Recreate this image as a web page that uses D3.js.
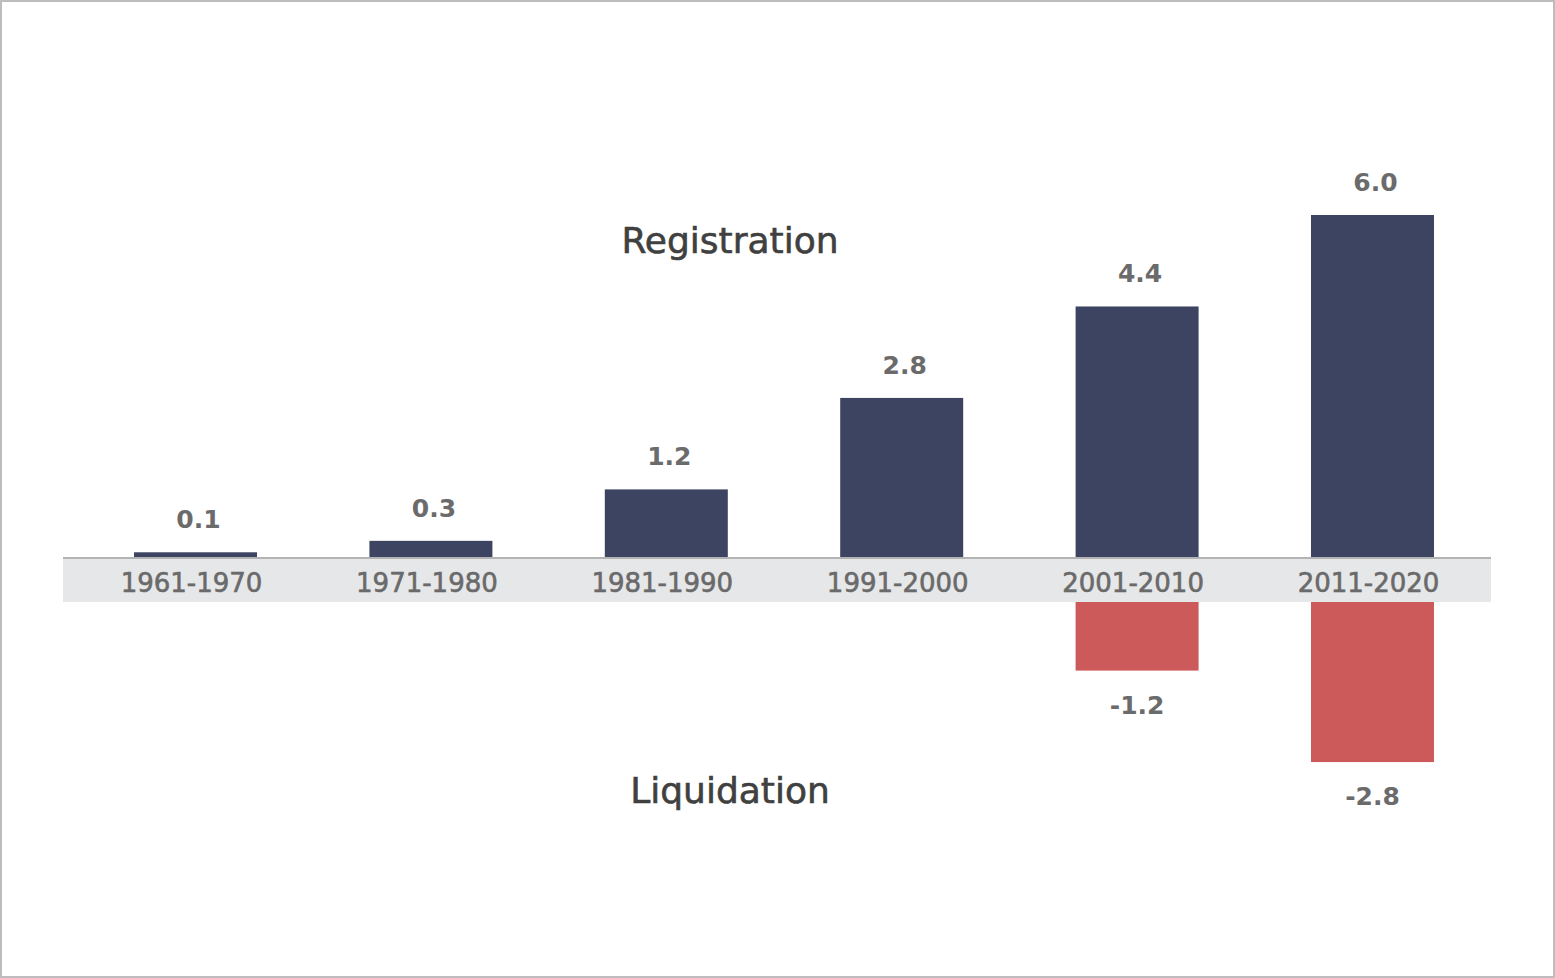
<!DOCTYPE html>
<html>
<head>
<meta charset="utf-8">
<script src="https://cdn.jsdelivr.net/npm/d3@7"></script>
<style>
  html, body { margin: 0; padding: 0; background: #fff; }
  svg { display: block; }
</style>
</head>
<body>
<svg id="chart" width="1555" height="978"></svg>
<script>
const categories = ["1961-1970", "1971-1980", "1981-1990", "1991-2000", "2001-2010", "2011-2020"];
const registration = [0.1, 0.3, 1.2, 2.8, 4.4, 6.0];
const liquidation = [null, null, null, null, -1.2, -2.8];
const seriesNames = ["Registration", "Liquidation"];

const W = 1555, H = 978;
const svg = d3.select("#chart");
const FONT = "'DejaVu Sans', sans-serif";
const fmt = v => d3.format(".1f")(v).replace("\u2212", "-");

// border
svg.append("rect").attr("x", 1).attr("y", 1).attr("width", W - 2).attr("height", H - 2)
  .attr("fill", "#fff").attr("stroke", "#bdbdbd").attr("stroke-width", 2);

const x = d3.scaleBand().domain(categories).range([63.4, 1504.6])
  .paddingInner(0.4775).paddingOuter(0.3);

const yPos = d3.scaleLinear().domain([0, 6]).range([558, 215]);
const axisTop = 558, bandBottom = 602;
const pxPerUnit = (yPos(0) - yPos(1));
const yNeg = d3.scaleLinear().domain([0, -1]).range([bandBottom, bandBottom + pxPerUnit]);

// axis band
svg.append("rect").attr("x", 63).attr("y", axisTop).attr("width", 1491 - 63).attr("height", bandBottom - axisTop)
  .attr("fill", "#e6e7e9");

// positive bars
svg.selectAll(".reg").data(registration).join("rect")
  .attr("x", (d, i) => x(categories[i]))
  .attr("width", x.bandwidth())
  .attr("y", d => yPos(d))
  .attr("height", d => yPos(0) - yPos(d))
  .attr("fill", "#3d4461");

// axis line
svg.append("line").attr("x1", 63).attr("x2", 1491).attr("y1", axisTop).attr("y2", axisTop)
  .attr("stroke", "#b3b3b3").attr("stroke-width", 2);

// negative bars
const negData = liquidation.map((v, i) => ({v, c: categories[i]})).filter(d => d.v != null);
svg.selectAll(".liq").data(negData).join("rect")
  .attr("x", d => x(d.c))
  .attr("width", x.bandwidth())
  .attr("y", bandBottom)
  .attr("height", d => yNeg(d.v) - bandBottom)
  .attr("fill", "#cd5a5a");

// category labels
const xAxis = d3.axisBottom(x).tickSize(0).tickPadding(0);
const gx = svg.append("g").attr("transform", `translate(-4,${axisTop + 34})`).call(xAxis);
gx.select(".domain").remove();
gx.selectAll("text").attr("font-family", FONT).attr("font-size", 26)
  .attr("fill", "#6a6a6a").attr("stroke", "#6a6a6a").attr("stroke-width", 0.6).attr("dy", 0);

// value labels
svg.selectAll(".regLab").data(registration).join("text")
  .attr("x", (d, i) => x(categories[i]) + x.bandwidth() / 2 + 3)
  .attr("y", d => yPos(d) - 24)
  .attr("text-anchor", "middle")
  .attr("font-family", FONT).attr("font-size", 25).attr("font-weight", "bold")
  .attr("fill", "#6b6b6b")
  .text(d => fmt(d));

svg.selectAll(".liqLab").data(negData).join("text")
  .attr("x", d => x(d.c) + x.bandwidth() / 2)
  .attr("y", d => yNeg(d.v) + 43)
  .attr("text-anchor", "middle")
  .attr("font-family", FONT).attr("font-size", 25).attr("font-weight", "bold")
  .attr("fill", "#6b6b6b")
  .text(d => fmt(d.v));

// series titles
svg.append("text").attr("x", 730).attr("y", 253).attr("text-anchor", "middle")
  .attr("font-family", FONT).attr("font-size", 36).attr("fill", "#404040")
  .attr("stroke", "#404040").attr("stroke-width", 0.6)
  .text(seriesNames[0]);
svg.append("text").attr("x", 730).attr("y", 803).attr("text-anchor", "middle")
  .attr("font-family", FONT).attr("font-size", 36).attr("fill", "#404040")
  .attr("stroke", "#404040").attr("stroke-width", 0.6)
  .text(seriesNames[1]);
</script>
</body>
</html>
